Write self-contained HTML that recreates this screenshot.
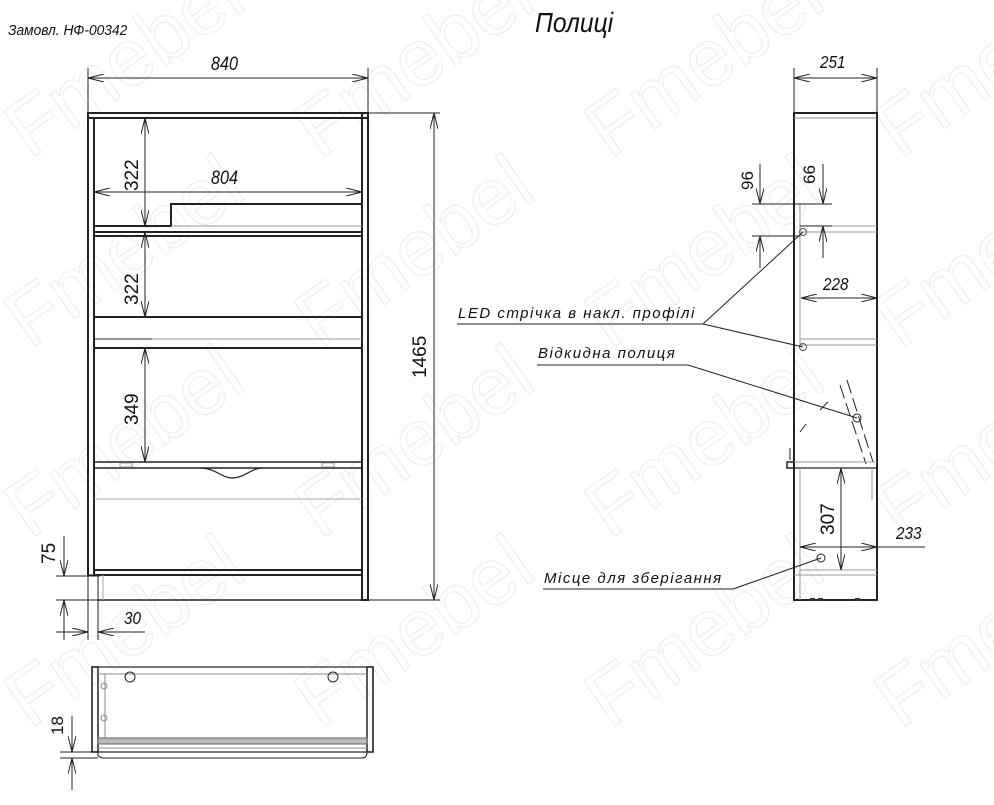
<!DOCTYPE html>
<html><head><meta charset="utf-8"><style>
html,body{margin:0;padding:0;background:#fff;}
svg{display:block;}
text{font-family:"Liberation Sans","DejaVu Sans",sans-serif;font-style:italic;fill:#111;}
text.up{font-style:normal;}
text.wm{font-family:"Liberation Sans",sans-serif;font-style:normal;font-size:80px;fill:none;stroke:#ececec;stroke-width:1;}
</style></head><body>
<svg width="994" height="805" viewBox="0 0 994 805" xmlns="http://www.w3.org/2000/svg">
<defs>
<marker id="a" viewBox="0 0 16 8" refX="16" refY="4" markerWidth="16" markerHeight="8" markerUnits="userSpaceOnUse" orient="auto-start-reverse">
<path d="M0,0 L16,4 L0,8" fill="none" stroke="#222" stroke-width="1"/>
</marker>
</defs>
<g>
<text class="wm" transform="translate(30,160) rotate(-35)">Fmebel</text>
<text class="wm" transform="translate(320,160) rotate(-35)">Fmebel</text>
<text class="wm" transform="translate(610,160) rotate(-35)">Fmebel</text>
<text class="wm" transform="translate(900,160) rotate(-35)">Fmebel</text>
<text class="wm" transform="translate(30,350) rotate(-35)">Fmebel</text>
<text class="wm" transform="translate(320,350) rotate(-35)">Fmebel</text>
<text class="wm" transform="translate(610,350) rotate(-35)">Fmebel</text>
<text class="wm" transform="translate(900,350) rotate(-35)">Fmebel</text>
<text class="wm" transform="translate(30,540) rotate(-35)">Fmebel</text>
<text class="wm" transform="translate(320,540) rotate(-35)">Fmebel</text>
<text class="wm" transform="translate(610,540) rotate(-35)">Fmebel</text>
<text class="wm" transform="translate(900,540) rotate(-35)">Fmebel</text>
<text class="wm" transform="translate(30,730) rotate(-35)">Fmebel</text>
<text class="wm" transform="translate(320,730) rotate(-35)">Fmebel</text>
<text class="wm" transform="translate(610,730) rotate(-35)">Fmebel</text>
<text class="wm" transform="translate(900,730) rotate(-35)">Fmebel</text>
</g>

<text x="8" y="35" font-size="15" transform="translate(8,0) scale(0.92,1) translate(-8,0)">Замовл. НФ-00342</text>
<text x="535" y="32" font-size="28" transform="translate(535,0) scale(0.88,1) translate(-535,0)">Полиці</text>

<g stroke="#222" stroke-width="1" fill="none">
<line x1="88" y1="68" x2="88" y2="640"/>
<line x1="368" y1="68" x2="368" y2="113"/>
<line x1="88" y1="78" x2="368" y2="78" marker-start="url(#a)" marker-end="url(#a)"/>
<line x1="368" y1="113" x2="440" y2="113"/>
<line x1="368" y1="600" x2="440" y2="600"/>
<line x1="434" y1="113" x2="434" y2="600" marker-start="url(#a)" marker-end="url(#a)"/>
<g stroke-width="2">
<rect x="88" y="113" width="280" height="5"/>
<line x1="94" y1="118" x2="94" y2="575"/>
<line x1="88" y1="113" x2="88" y2="575"/>
<rect x="362" y="113" width="6" height="487"/>
<path d="M94,226 H171 V204 H362"/>
<line x1="94" y1="232" x2="362" y2="232"/>
<line x1="94" y1="236" x2="362" y2="236"/>
<line x1="94" y1="317" x2="362" y2="317"/>
<line x1="94" y1="339" x2="152" y2="339" stroke-width="1"/>
<line x1="94" y1="348" x2="362" y2="348"/>
<rect x="94" y="462" width="268" height="6" stroke-width="1.5"/>
<line x1="94" y1="570" x2="362" y2="570"/>
<line x1="94" y1="575" x2="362" y2="575"/>
<rect x="88" y="575" width="10" height="25" stroke-width="1"/>
<line x1="98" y1="600" x2="362" y2="600" stroke-width="1.5"/>
</g>
<line x1="171" y1="226" x2="362" y2="226" stroke="#999"/>
<line x1="152" y1="339" x2="362" y2="339" stroke="#999"/>
<line x1="94" y1="499" x2="362" y2="499" stroke="#aaa"/>
<line x1="103" y1="575" x2="103" y2="600" stroke="#aaa"/>
<path d="M200,468 C215,468 222,478 232,478 C244,478 252,468 262,468" stroke-width="1.2"/>
<rect x="120" y="463" width="12" height="4" stroke="#999"/>
<rect x="322" y="463" width="12" height="4" stroke="#999"/>
<line x1="94" y1="192" x2="362" y2="192" marker-start="url(#a)" marker-end="url(#a)"/>
<line x1="145" y1="118" x2="145" y2="226" marker-start="url(#a)" marker-end="url(#a)"/>
<line x1="145" y1="232" x2="145" y2="317" marker-start="url(#a)" marker-end="url(#a)"/>
<line x1="145" y1="348" x2="145" y2="462" marker-start="url(#a)" marker-end="url(#a)"/>
<line x1="56" y1="576" x2="100" y2="576"/>
<line x1="56" y1="600" x2="100" y2="600"/>
<line x1="98" y1="600" x2="98" y2="640"/>
<line x1="64" y1="536" x2="64" y2="576" marker-end="url(#a)"/>
<line x1="64" y1="640" x2="64" y2="600" marker-end="url(#a)"/>
<line x1="56" y1="632" x2="88" y2="632" marker-end="url(#a)"/>
<line x1="145" y1="632" x2="98" y2="632" marker-end="url(#a)"/>

<line x1="794" y1="68" x2="794" y2="113"/>
<line x1="877" y1="68" x2="877" y2="113"/>
<line x1="794" y1="78" x2="877" y2="78" marker-start="url(#a)" marker-end="url(#a)"/>
<rect x="794" y="113" width="83" height="487" stroke-width="2"/>
<line x1="794" y1="118" x2="877" y2="118" stroke="#888"/>
<line x1="800" y1="204" x2="800" y2="347" stroke="#999"/>
<line x1="800" y1="226" x2="877" y2="226" stroke="#999"/>
<line x1="800" y1="232" x2="877" y2="232" stroke="#999"/>
<line x1="800" y1="339" x2="877" y2="339" stroke="#999"/>
<line x1="800" y1="345" x2="877" y2="345" stroke="#999"/>
<line x1="752" y1="204" x2="832" y2="204"/>
<line x1="752" y1="236" x2="800" y2="236"/>
<line x1="800" y1="226" x2="832" y2="226"/>
<line x1="760" y1="164" x2="760" y2="204" marker-end="url(#a)"/>
<line x1="760" y1="268" x2="760" y2="236" marker-end="url(#a)"/>
<line x1="823" y1="164" x2="823" y2="204" marker-end="url(#a)"/>
<line x1="823" y1="258" x2="823" y2="226" marker-end="url(#a)"/>
<line x1="801" y1="298" x2="877" y2="298" marker-start="url(#a)" marker-end="url(#a)"/>
<circle cx="803" cy="232" r="3.5" stroke="#555"/>
<circle cx="803" cy="347" r="3.5" stroke="#555"/>
<path d="M847,380 L873,462" stroke-dasharray="14,5"/>
<path d="M840,385 L866,464" stroke-dasharray="14,5"/>
<line x1="820" y1="410" x2="828" y2="402"/>
<line x1="800" y1="432" x2="806" y2="424"/>
<line x1="790" y1="448" x2="790" y2="460"/>
<circle cx="857" cy="418" r="4"/>
<rect x="787" y="462" width="7" height="6" stroke-width="1.5"/>
<line x1="794" y1="462" x2="877" y2="462" stroke="#999"/>
<line x1="794" y1="468" x2="877" y2="468" stroke-width="1.2"/>
<line x1="800" y1="468" x2="800" y2="600" stroke="#999"/>
<line x1="872" y1="468" x2="872" y2="500" stroke="#999"/>
<line x1="800" y1="570" x2="877" y2="570" stroke="#999"/>
<line x1="794" y1="575" x2="877" y2="575" stroke="#999"/>
<line x1="841" y1="468" x2="841" y2="570" marker-start="url(#a)" marker-end="url(#a)"/>
<line x1="800" y1="547" x2="877" y2="547" marker-start="url(#a)" marker-end="url(#a)"/>
<line x1="877" y1="547" x2="925" y2="547"/>
<circle cx="821" cy="558" r="4"/>
<g fill="#333" stroke="none"><rect x="810" y="598" width="5" height="3"/><rect x="818" y="598" width="5" height="3"/><rect x="855" y="598" width="5" height="3"/></g>
<line x1="457" y1="324" x2="703" y2="324"/>
<line x1="703" y1="324" x2="803" y2="232"/>
<line x1="703" y1="324" x2="803" y2="347"/>
<line x1="537" y1="365" x2="688" y2="365"/>
<line x1="688" y1="365" x2="857" y2="418"/>
<line x1="543" y1="589" x2="733" y2="589"/>
<line x1="733" y1="589" x2="821" y2="558"/>

<rect x="92" y="667" width="281" height="85" stroke-width="1.2"/>
<rect x="92" y="667" width="6" height="85" stroke-width="1.5"/>
<rect x="367" y="667" width="6" height="85" stroke-width="1.5"/>
<line x1="98" y1="674" x2="367" y2="674" stroke="#888"/>
<line x1="105" y1="674" x2="105" y2="740" stroke="#888"/>
<path d="M98,752 V754 Q98,758 104,758 H362 Q367,758 367,752"/>
<rect x="98" y="738" width="269" height="6" fill="#bbb" stroke="#666"/>
<line x1="98" y1="748" x2="367" y2="748" stroke="#888"/>
<circle cx="130" cy="677" r="5"/>
<circle cx="333" cy="677" r="5"/>
<circle cx="104" cy="686" r="3" stroke="#888"/>
<circle cx="104" cy="718" r="3" stroke="#888"/>
<line x1="60" y1="752" x2="92" y2="752"/>
<line x1="60" y1="758" x2="98" y2="758"/>
<line x1="72" y1="716" x2="72" y2="752" marker-end="url(#a)"/>
<line x1="72" y1="790" x2="72" y2="758" marker-end="url(#a)"/>
</g>

<g font-size="19">
<text x="211" y="70" transform="translate(211,0) scale(0.85,1) translate(-211,0)">840</text>
<text x="211" y="184" transform="translate(211,0) scale(0.85,1) translate(-211,0)">804</text>
<text x="820" y="68" font-size="18" transform="translate(820,0) scale(0.85,1) translate(-820,0)">251</text>
<text x="823" y="290" font-size="18" transform="translate(823,0) scale(0.85,1) translate(-823,0)">228</text>
<text x="896" y="539" font-size="18" transform="translate(896,0) scale(0.85,1) translate(-896,0)">233</text>
<text x="124" y="624" font-size="18" transform="translate(124,0) scale(0.85,1) translate(-124,0)">30</text>
</g>
<g font-size="19">
<text class="up" transform="translate(138,191) rotate(-90)">322</text>
<text class="up" transform="translate(138,305) rotate(-90)">322</text>
<text class="up" transform="translate(138,425) rotate(-90)">349</text>
<text class="up" transform="translate(426,378) rotate(-90)">1465</text>
<text class="up" transform="translate(55,564) rotate(-90)">75</text>
<text class="up" transform="translate(63,735) rotate(-90)" font-size="17">18</text>
<text class="up" transform="translate(753,190) rotate(-90)" font-size="17">96</text>
<text class="up" transform="translate(815,184) rotate(-90)" font-size="17">66</text>
<text class="up" transform="translate(834,535) rotate(-90)">307</text>
</g>
<g font-size="15" letter-spacing="1.5">
<text x="458" y="318">LED стрічка в накл. профілі</text>
<text x="538" y="358">Відкидна полиця</text>
<text x="544" y="583">Місце для зберігання</text>
</g>
</svg>
</body></html>
